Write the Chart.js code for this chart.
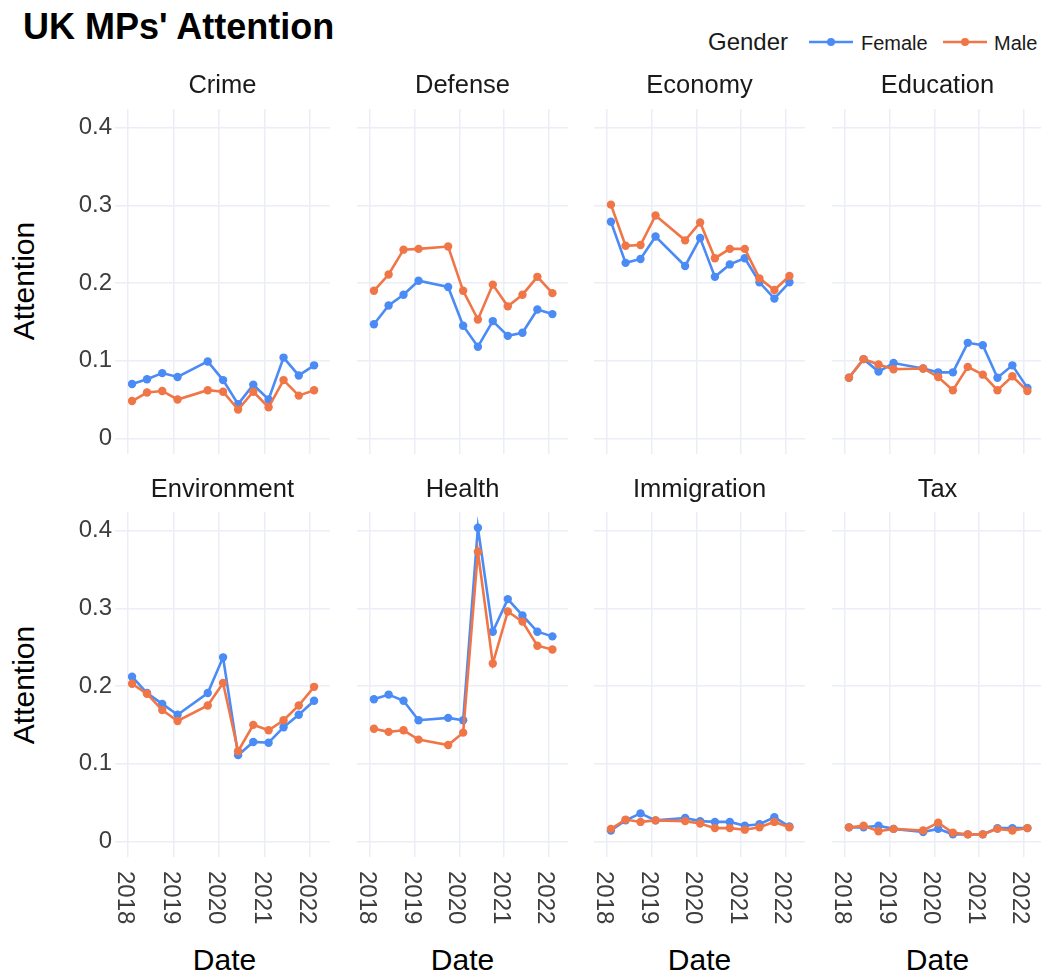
<!DOCTYPE html>
<html>
<head>
<meta charset="utf-8">
<title>UK MPs' Attention</title>
<script src="https://cdn.jsdelivr.net/npm/chart.js@4.4.1/dist/chart.umd.min.js"></script>
<style>
  body { margin: 0; background: #fff; font-family: "Liberation Sans", Arial, sans-serif; }
  #wrap { position: relative; width: 1041px; height: 976px; overflow: hidden; }
  #wrap canvas, .txt { position: absolute; }
  .txt { line-height: 1; white-space: nowrap; }
  #title { left: 23px; top: 9px; font-size: 36px; font-weight: bold; color: #000; }
  .legend-ttl { font-size: 24px; color: #1a1a1a; }
  .legend-lbl { font-size: 20px; color: #1a1a1a; }
  .axis-ttl { font-size: 30px; color: #000; }
  .ylab { transform: translate(-50%, -50%) rotate(-90deg); }
  .xlab { transform: translateX(-50%); }
</style>
</head>
<body>
<div id="wrap">
  <div id="title" class="txt">UK MPs' Attention</div>

  <div class="txt legend-ttl" style="left:708px; top:30px;">Gender</div>
  <svg style="position:absolute; left:809px; top:36px;" width="44" height="12">
    <line x1="0" y1="6" x2="44" y2="6" stroke="#4b8bf5" stroke-width="2.6"/>
    <circle cx="22" cy="6" r="4" fill="#4b8bf5"/>
  </svg>
  <div class="txt legend-lbl" style="left:861px; top:32.5px;">Female</div>
  <svg style="position:absolute; left:943px; top:36px;" width="44" height="12">
    <line x1="0" y1="6" x2="44" y2="6" stroke="#f07647" stroke-width="2.6"/>
    <circle cx="22" cy="6" r="4" fill="#f07647"/>
  </svg>
  <div class="txt legend-lbl" style="left:994px; top:32.5px;">Male</div>

  <div class="txt axis-ttl ylab" style="left:24px; top:281px;">Attention</div>
  <div class="txt axis-ttl ylab" style="left:24px; top:685px;">Attention</div>
</div>

<script>
// ── Data ─────────────────────────────────────────────────────
const dates = ['2018-02-01', '2018-06-01', '2018-10-01', '2019-02-01', '2019-10-01', '2020-02-01',
               '2020-06-01', '2020-10-01', '2021-02-01', '2021-06-01', '2021-10-01', '2022-02-01'];
const yearTicks = [2018, 2019, 2020, 2021, 2022];
const yearLabels = ['2018', '2019', '2020', '2021', '2022'];
const yTicks = [0, 0.1, 0.2, 0.3, 0.4];
const yTickLabels = ['0', '0.1', '0.2', '0.3', '0.4'];
const topics = ['Crime', 'Defense', 'Economy', 'Education', 'Environment', 'Health', 'Immigration', 'Tax'];

const crimeFemale       = [0.070, 0.076, 0.084, 0.079, 0.099, 0.075, 0.044, 0.069, 0.050, 0.104, 0.081, 0.094];
const crimeMale         = [0.048, 0.059, 0.061, 0.050, 0.062, 0.060, 0.037, 0.060, 0.040, 0.075, 0.055, 0.062];
const defenseFemale     = [0.147, 0.171, 0.185, 0.203, 0.195, 0.145, 0.118, 0.151, 0.132, 0.136, 0.166, 0.160];
const defenseMale       = [0.190, 0.211, 0.243, 0.244, 0.247, 0.190, 0.153, 0.198, 0.170, 0.185, 0.208, 0.187];
const economyFemale     = [0.279, 0.226, 0.231, 0.260, 0.222, 0.258, 0.208, 0.224, 0.232, 0.201, 0.180, 0.201];
const economyMale       = [0.301, 0.248, 0.249, 0.287, 0.255, 0.278, 0.232, 0.244, 0.244, 0.206, 0.191, 0.209];
const educationFemale   = [0.078, 0.102, 0.086, 0.097, 0.090, 0.085, 0.085, 0.123, 0.120, 0.078, 0.094, 0.065];
const educationMale     = [0.078, 0.102, 0.095, 0.089, 0.090, 0.079, 0.062, 0.092, 0.082, 0.062, 0.080, 0.061];
const environmentFemale = [0.212, 0.191, 0.177, 0.163, 0.191, 0.237, 0.111, 0.128, 0.127, 0.147, 0.163, 0.181];
const environmentMale   = [0.203, 0.190, 0.169, 0.155, 0.175, 0.204, 0.116, 0.150, 0.143, 0.156, 0.175, 0.199];
const healthFemale      = [0.183, 0.189, 0.181, 0.156, 0.159, 0.156, 0.404, 0.270, 0.312, 0.291, 0.270, 0.264];
const healthMale        = [0.145, 0.141, 0.143, 0.131, 0.124, 0.140, 0.373, 0.229, 0.296, 0.283, 0.252, 0.247];
const immigrationFemale = [0.014, 0.027, 0.036, 0.027, 0.030, 0.026, 0.025, 0.025, 0.020, 0.022, 0.031, 0.019];
const immigrationMale   = [0.016, 0.028, 0.025, 0.027, 0.026, 0.023, 0.017, 0.017, 0.015, 0.018, 0.025, 0.018];
const taxFemale         = [0.018, 0.018, 0.020, 0.016, 0.012, 0.016, 0.009, 0.009, 0.009, 0.017, 0.017, 0.017];
const taxMale           = [0.018, 0.020, 0.013, 0.016, 0.014, 0.024, 0.011, 0.009, 0.009, 0.016, 0.014, 0.017];

const femaleByTopic = [crimeFemale, defenseFemale, economyFemale, educationFemale,
                       environmentFemale, healthFemale, immigrationFemale, taxFemale];
const maleByTopic   = [crimeMale, defenseMale, economyMale, educationMale,
                       environmentMale, healthMale, immigrationMale, taxMale];

// ── Layout / style ───────────────────────────────────────────
const FONT = '"Liberation Sans", Arial, sans-serif';
const FEMALE = '#4b8bf5', MALE = '#f07647', GRID = '#ebeef6', TICK = '#3d3d3d';
const X_MIN = 2017.71, X_MAX = 2022.43;
const Y_MIN = -0.0202, Y_MAX = 0.4242;
const plotLeft = [115, 353, 590, 828];
const PLOT_W = 219, PLOT_H = 345;
const rowTop  = [60, 464];     // canvas top (strip title starts here)
const plotTop = [109, 512];
const Y_AXIS_W = 60;

Chart.defaults.font.family = FONT;

// date string -> decimal year
const toYear = s => {
  const d = new Date(s + 'T00:00:00Z');
  const y = d.getUTCFullYear();
  const a = Date.UTC(y, 0, 1), b = Date.UTC(y + 1, 0, 1);
  return y + (d.getTime() - a) / (b - a);
};
const xs = dates.map(toYear);

// year labels under the bottom row, rotated to read downwards
const rotatedYears = {
  id: 'rotatedYears',
  afterDraw(chart, args, opts) {
    if (!opts.show) return;
    const { ctx, chartArea } = chart;
    const x = chart.scales.x;
    ctx.save();
    ctx.font = '24px ' + FONT;
    ctx.fillStyle = TICK;
    ctx.textAlign = 'left';
    ctx.textBaseline = 'middle';
    x.ticks.forEach((t, i) => {
      ctx.save();
      ctx.translate(x.getPixelForValue(t.value) - 3.5, chartArea.bottom + 14);
      ctx.rotate(Math.PI / 2);
      ctx.fillText(yearLabels[i], 0, 0);
      ctx.restore();
    });
    ctx.restore();
  }
};

const series = (label, vals, color, order) => ({
  label, order,
  data: vals.map((v, i) => ({ x: xs[i], y: v })),
  borderColor: color,
  backgroundColor: color,
  borderWidth: 2.6,
  pointRadius: 4.2,
  pointBorderWidth: 0,
  pointBackgroundColor: color,
  tension: 0
});

const wrap = document.getElementById('wrap');

topics.forEach((name, i) => {
  const r = i >> 2, c = i & 3;
  const yW = c === 0 ? Y_AXIS_W : 0;
  const xH = r === 0 ? 20 : 75;
  const stripH = plotTop[r] - rowTop[r];

  const cv = document.createElement('canvas');
  cv.width = yW + PLOT_W;
  cv.height = stripH + PLOT_H + xH;
  cv.style.left = (plotLeft[c] - yW) + 'px';
  cv.style.top = rowTop[r] + 'px';
  wrap.appendChild(cv);

  if (r === 1) {
    const d = document.createElement('div');
    d.className = 'txt axis-ttl xlab';
    d.textContent = 'Date';
    d.style.left = (plotLeft[c] + PLOT_W / 2) + 'px';
    d.style.top = '945px';
    wrap.appendChild(d);
  }

  new Chart(cv, {
    type: 'line',
    data: {
      datasets: [
        series('Female', femaleByTopic[i], FEMALE, 2),
        series('Male', maleByTopic[i], MALE, 1)
      ]
    },
    plugins: [rotatedYears],
    options: {
      responsive: false,
      animation: false,
      events: [],
      layout: { padding: 0 },
      plugins: {
        legend: { display: false },
        tooltip: { enabled: false },
        rotatedYears: { show: r === 1 },
        title: {
          display: true, text: name, fullSize: false,
          color: '#1a1a1a',
          font: { size: 25.5, weight: 'normal' },
          padding: { top: 11, bottom: stripH - 30.6 - 11 }
        }
      },
      scales: {
        x: {
          type: 'linear', min: X_MIN, max: X_MAX,
          afterBuildTicks: s => { s.ticks = yearTicks.map(v => ({ value: v })); },
          afterFit: s => { s.height = xH; },
          ticks: { display: false },
          grid: { color: GRID, lineWidth: 1.5, drawTicks: false },
          border: { display: false }
        },
        y: {
          type: 'linear', min: Y_MIN, max: Y_MAX,
          afterBuildTicks: s => { s.ticks = yTicks.map(v => ({ value: v })); },
          afterFit: s => { s.width = yW; },
          ticks: {
            display: c === 0, padding: 3, color: TICK,
            font: { size: 24 },
            callback: (v, k) => yTickLabels[k]
          },
          grid: { color: GRID, lineWidth: 1.5, drawTicks: false },
          border: { display: false }
        }
      }
    }
  });
});
</script>
</body>
</html>
